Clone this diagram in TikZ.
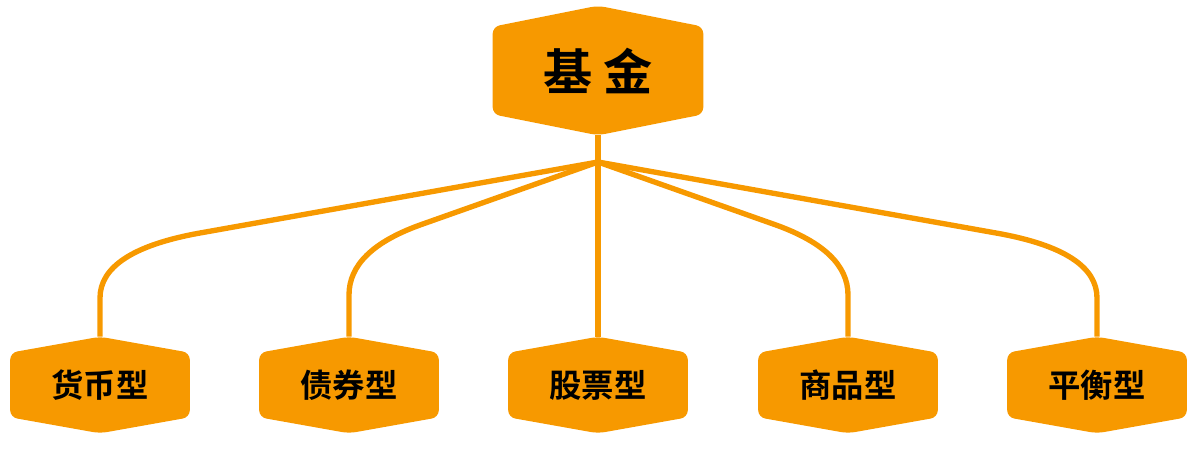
\documentclass[tikz,border=0pt]{standalone}
\usepackage{fontspec}
\newfontfamily\cjk{Noto Sans CJK SC Bold}
\usetikzlibrary{calc,backgrounds}
\definecolor{fundorange}{RGB}{247,153,0}

\begin{document}
\begin{tikzpicture}[x=0.025cm,y=0.025cm,
  fundbox/.style={minimum width=5.25cm,minimum height=3.225cm,inner sep=0pt,font=\cjk\fontsize{35}{40}\selectfont},
  kindbox/.style={minimum width=4.475cm,minimum height=2.4cm,inner sep=0pt,font=\cjk\fontsize{23}{28}\selectfont},
  link/.style={fundorange,line width=3.8pt}]
\useasboundingbox (0,0) rectangle (1200,449);

%\draw[red] (0,0) rectangle (1200,449);
\node[fundbox] (fund) at (598,378.5) {基 金};

\node[kindbox] (money) at (100,64) {货币型};
\node[kindbox] (bond) at (349,64) {债券型};
\node[kindbox] (stock) at (598,64) {股票型};
\node[kindbox] (goods) at (848,64) {商品型};
\node[kindbox] (balance) at (1097,64) {平衡型};

% hexagons behind the text
\begin{scope}[on background layer]
\foreach \n/\d in {fund/0.525cm,money/0.4cm,bond/0.4cm,stock/0.4cm,goods/0.4cm,balance/0.4cm}
  \fill[fundorange,rounded corners=5pt] ($(\n.north west)+(0pt,-\d)$) -- (\n.north)
    -- ($(\n.north east)+(0pt,-\d)$) -- ($(\n.south east)+(0pt,\d)$) -- (\n.south)
    -- ($(\n.south west)+(0pt,\d)$) -- cycle;
\end{scope}

\draw[link] (fund.south) -- (598,287) coordinate (split);

\draw[link] (split) -- (200,216) .. controls (133,204) and (100,182) .. (100,151) -- (money.north);
\draw[link] (split) -- (420,224) .. controls (373,207) and (349,184) .. (349,154) -- (bond.north);
\draw[link] (split) -- (stock.north);
\draw[link] (split) -- (776,224) .. controls (823,207) and (848,184) .. (848,154) -- (goods.north);
\draw[link] (split) -- (996,216) .. controls (1064,204) and (1097,182) .. (1097,151) -- (balance.north);

\end{tikzpicture}
\end{document}
